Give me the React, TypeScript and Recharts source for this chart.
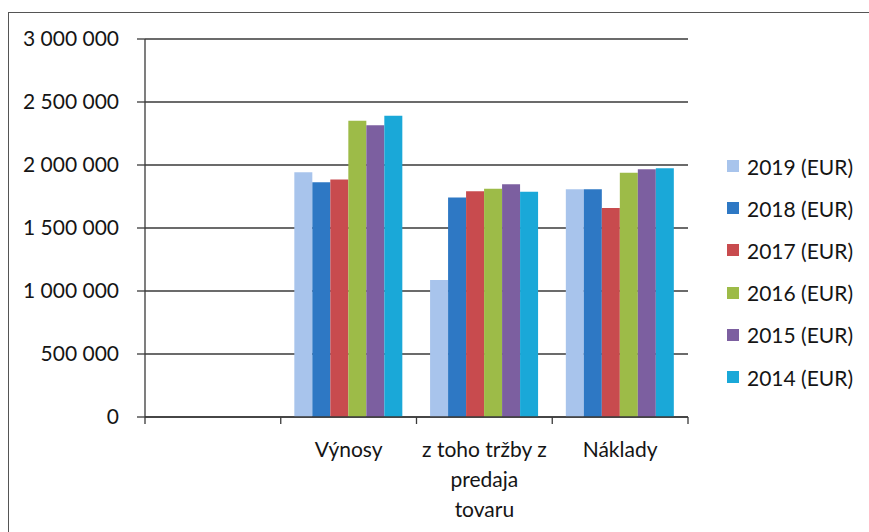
import React from "react";
import { BarChart, Bar, XAxis, YAxis, CartesianGrid } from "recharts";

const categories = ["", "Výnosy", "z toho tržby z predaja tovaru", "Náklady"];
const categoryLines: string[][] = [[], ["Výnosy"], ["z toho tržby z", "predaja", "tovaru"], ["Náklady"]];

const seriesNames = ["2019 (EUR)", "2018 (EUR)", "2017 (EUR)", "2016 (EUR)", "2015 (EUR)", "2014 (EUR)"];
const seriesColors = ["#a8c4ec", "#2e78c4", "#c84b4e", "#9dbb48", "#7c5fa0", "#1aa8d8"];

const v2019 = [null, 1942000, 1087000, 1807000];
const v2018 = [null, 1863000, 1743000, 1807000];
const v2017 = [null, 1884000, 1791000, 1659000];
const v2016 = [null, 2352000, 1812000, 1939000];
const v2015 = [null, 2315000, 1847000, 1966000];
const v2014 = [null, 2391000, 1788000, 1974000];
const seriesValues = [v2019, v2018, v2017, v2016, v2015, v2014];

const yTicks = [0, 500000, 1000000, 1500000, 2000000, 2500000, 3000000];

const data = categories.map((c, i) => {
  const row: Record<string, any> = { name: c };
  seriesNames.forEach((s, k) => {
    row[s] = seriesValues[k][i];
  });
  return row;
});

const FONT = "Lato, 'Open Sans', sans-serif";
const TEXT = "#151515";
const AXIS = "#3a3a3a";

const fmt = (v: number) => String(v).replace(/\B(?=(\d{3})+(?!\d))/g, " ");

const CatTick = (props: any) => {
  const { x, y, payload, width } = props;
  const idx = payload.index;
  const lines = categoryLines[idx] || [];
  const half = width / categories.length / 2;
  return (
    <g>
      <line x1={x - half} x2={x - half} y1={y} y2={y + 7} stroke={AXIS} strokeWidth={1.3} />
      {idx === categories.length - 1 && (
        <line x1={x + half} x2={x + half} y1={y} y2={y + 7} stroke={AXIS} strokeWidth={1.3} />
      )}
      {lines.map((l, i) => (
        <text
          key={i}
          x={x}
          y={y + 40 + i * 30}
          textAnchor="middle"
          fontFamily={FONT}
          fontSize={21}
          fill={TEXT}
        >
          {l}
        </text>
      ))}
    </g>
  );
};

const LegendBox = () => (
  <div
    style={{
      position: "absolute",
      left: 727,
      top: 145,
      width: 140,
      fontFamily: FONT,
      fontSize: 21,
      color: TEXT,
    }}
  >
    {seriesNames.map((s, i) => (
      <div key={s} style={{ height: 42.2, display: "flex", alignItems: "center" }}>
        <span
          style={{
            display: "inline-block",
            width: 12,
            height: 12,
            background: seriesColors[i],
            marginRight: 8,
          }}
        />
        <span>{s}</span>
      </div>
    ))}
  </div>
);

export default function App() {
  return (
    <div
      style={{
        position: "absolute",
        left: 0,
        top: 0,
        width: 869,
        height: 532,
        background: "#fff",
        overflow: "hidden",
      }}
    >
      <div
        style={{
          position: "absolute",
          left: 8,
          top: 12,
          width: 869,
          height: 540,
          borderTop: "1.5px solid #555",
          borderLeft: "1.5px solid #555",
        }}
      />
      <div style={{ position: "absolute", left: 0, top: 0 }}>
        <BarChart
          width={869}
          height={532}
          data={data}
          margin={{ top: 39, right: 181, bottom: 0, left: 0 }}
          barCategoryGap="10%"
          barGap={0}
        >
          <CartesianGrid vertical={false} stroke={AXIS} strokeWidth={1.3} />
          <XAxis
            dataKey="name"
            height={115}
            axisLine={{ stroke: AXIS, strokeWidth: 1.3 }}
            tickLine={false}
            tickSize={0}
            tickMargin={0}
            interval={0}
            tick={<CatTick />}
          />
          <YAxis
            width={145}
            domain={[0, 3000000]}
            ticks={yTicks}
            tickFormatter={fmt}
            tickSize={8}
            tickMargin={18}
            axisLine={{ stroke: AXIS, strokeWidth: 1.3 }}
            tickLine={{ stroke: AXIS, strokeWidth: 1.3 }}
            tick={{ fontFamily: FONT, fontSize: 21, fill: TEXT }}
          />
          {seriesNames.map((s, i) => (
            <Bar key={s} dataKey={s} fill={seriesColors[i]} isAnimationActive={false} />
          ))}
        </BarChart>
      </div>
      <LegendBox />
    </div>
  );
}
